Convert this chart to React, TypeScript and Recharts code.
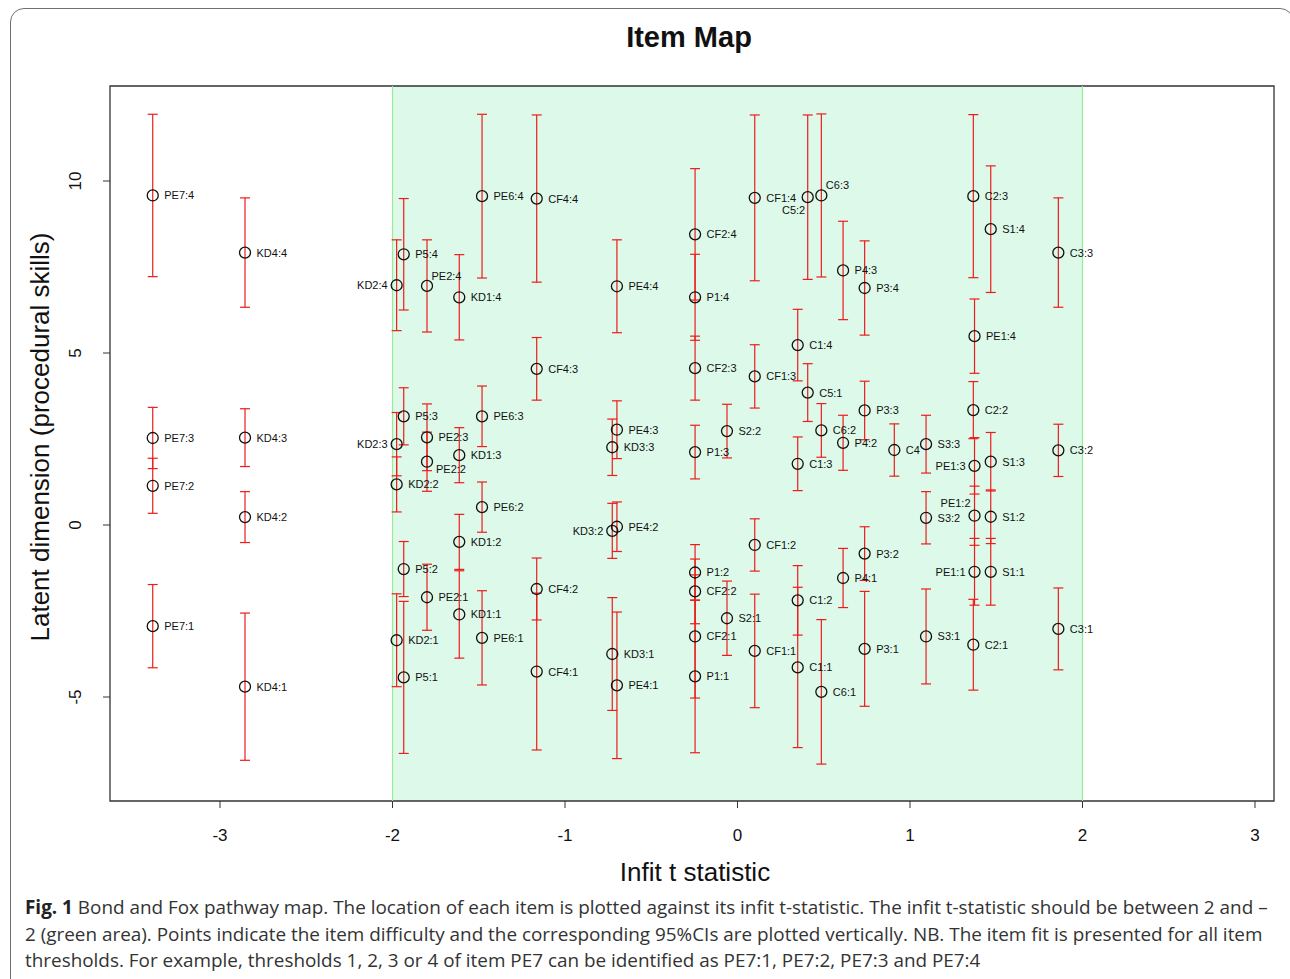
import React from 'react';
import { ScatterChart, Scatter, XAxis, YAxis, ErrorBar, ReferenceArea, ReferenceLine } from 'recharts';

// items (x = infit t statistic)
const itemNames = ['PE7', 'KD4', 'KD2', 'P5', 'PE2', 'KD1', 'PE6', 'CF4', 'KD3', 'PE4', 'CF2', 'P1', 'S2', 'CF1', 'C1', 'C5', 'C6', 'P4', 'P3', 'C4', 'S3', 'C2', 'PE1', 'S1', 'C3'];
const infitT = [-3.39, -2.855, -1.976, -1.935, -1.8, -1.613, -1.481, -1.164, -0.726, -0.699, -0.246, -0.246, -0.061, 0.1, 0.349, 0.407, 0.486, 0.612, 0.737, 0.909, 1.093, 1.367, 1.374, 1.468, 1.86];

// threshold locations (thresholds 1..n) for every item, same order as itemNames
const thresholds = [
  [-2.94, 1.14, 2.53, 9.58],
  [-4.7, 0.23, 2.54, 7.92],
  [-3.35, 1.18, 2.35, 6.97],
  [-4.43, -1.28, 3.16, 7.87],
  [-2.1, 1.84, 2.55, 6.95],
  [-2.6, -0.49, 2.03, 6.62],
  [-3.28, 0.52, 3.16, 9.56],
  [-4.26, -1.86, 4.54, 9.49],
  [-3.75, -0.17, 2.26],
  [-4.66, -0.05, 2.77, 6.94],
  [-3.24, -1.93, 4.56, 8.45],
  [-4.4, -1.38, 2.12, 6.62],
  [-2.71, 2.73],
  [-3.66, -0.58, 4.32, 9.51],
  [-4.14, -2.19, 1.78, 5.23],
  [3.85, 9.53],
  [-4.85, 2.75, 9.58],
  [-1.54, 2.39, 7.4],
  [-3.6, -0.83, 3.33, 6.89],
  [2.18],
  [-3.24, 0.21, 2.35],
  [-3.48, 3.34, 9.56],
  [-1.36, 0.27, 1.72, 5.49],
  [-1.36, 0.24, 1.84, 8.6],
  [-3.02, 2.17, 7.92],
];

// half width of the 95% CI
const ci95 = [
  [1.21, 0.8, 0.89, 2.36],
  [2.14, 0.74, 0.84, 1.59],
  [1.35, 0.8, 0.92, 1.32],
  [2.21, 0.8, 0.83, 1.62],
  [0.96, 0.86, 0.97, 1.34],
  [1.27, 0.8, 0.8, 1.24],
  [1.37, 0.73, 0.88, 2.38],
  [2.28, 0.9, 0.91, 2.43],
  [1.64, 0.8, 0.82],
  [2.13, 0.72, 0.84, 1.35],
  [1.79, 0.94, 0.93, 1.91],
  [2.22, 0.81, 0.78, 1.25],
  [1.08, 0.78],
  [1.65, 0.76, 0.92, 2.41],
  [2.33, 1.01, 0.78, 1.04],
  [0.84, 2.39],
  [2.1, 0.78, 2.37],
  [0.86, 0.8, 1.43],
  [1.67, 0.78, 0.85, 1.37],
  [0.76],
  [1.38, 0.76, 0.84],
  [1.32, 0.83, 2.37],
  [0.97, 0.86, 0.82, 1.08],
  [0.97, 0.78, 0.85, 1.84],
  [1.19, 0.76, 1.59],
];

const xTicks = [-3, -2, -1, 0, 1, 2, 3];
const yTicks = [-5, 0, 5, 10];

// where a label sits when it is not to the right of its point
const labelSide: Record<string, string> = {
  'KD2:4': 'l', 'KD2:3': 'l', 'KD3:2': 'l', 'PE1:3': 'l', 'PE1:1': 'l',
  'PE2:4': 'ur', 'C6:3': 'ur', 'C5:2': 'dl', 'PE2:2': 'dr', 'PE1:2': 'ul',
};

const points = itemNames.flatMap((name, i) =>
  thresholds[i].map((y, k) => ({
    x: infitT[i],
    y,
    ci: ci95[i][k],
    label: thresholds[i].length > 1 ? `${name}:${k + 1}` : name,
  }))
);

const XMIN = -3.6377;
const XMAX = 3.1101;
const YMIN = -8.023;
const YMAX = 12.762;

const SANS = '"Liberation Sans", Arial, Helvetica, sans-serif';

const ItemPoint = (props: any) => {
  const { cx, cy, payload } = props;
  const side = labelSide[payload.label] || 'r';
  let tx = cx + 11.5;
  let ty = cy;
  let anchor = 'start';
  if (side === 'l') { tx = cx - 9; anchor = 'end'; }
  if (side === 'ur') { tx = cx + 4.5; ty = cy - 10; }
  if (side === 'dl') { tx = cx - 2.5; ty = cy + 13; anchor = 'end'; }
  if (side === 'dr') { tx = cx + 9; ty = cy + 7; }
  if (side === 'ul') { tx = cx - 4; ty = cy - 13; anchor = 'end'; }
  return (
    <g>
      <circle cx={cx} cy={cy} r={5.5} fill="none" stroke="#111" strokeWidth={1.3} />
      <text x={tx} y={ty} textAnchor={anchor} dominantBaseline="central" fontSize={11} fontFamily={SANS} fill="#111">
        {payload.label}
      </text>
    </g>
  );
};

const XTick = (props: any) => (
  <text x={props.x} y={835} textAnchor="middle" dominantBaseline="central" fontSize={17} fontFamily={SANS} fill="#111">
    {props.payload.value}
  </text>
);

const YTick = (props: any) => (
  <text x={76} y={props.y} transform={`rotate(-90, 76, ${props.y})`} textAnchor="middle" dominantBaseline="central" fontSize={17} fontFamily={SANS} fill="#111">
    {props.payload.value}
  </text>
);

export default function App() {
  return (
    <div style={{ position: 'absolute', left: 0, top: 0, width: 1290, height: 979, overflow: 'hidden', background: '#fff' }}>
      <div style={{ position: 'absolute', left: 10, top: 8, width: 1284, height: 1000, border: '1.5px solid #6f6f6f', borderRadius: 14, boxSizing: 'border-box' }} />
      <div style={{ position: 'absolute', left: 689, top: 37, transform: 'translate(-50%, -50%)', fontFamily: SANS, fontWeight: 'bold', fontSize: 29, lineHeight: 1, whiteSpace: 'nowrap', color: '#111' }}>
        Item Map
      </div>
      <div style={{ position: 'absolute', left: 0, top: 0 }}>
        <ScatterChart width={1290} height={890} margin={{ top: 86, right: 16, bottom: 29, left: 50 }}>
          <ReferenceArea x1={-2} x2={2} y1={YMIN} y2={YMAX} fill="#ddf9e9" fillOpacity={1} stroke="none" ifOverflow="visible" />
          <ReferenceLine x={-2} stroke="#98ec98" strokeWidth={1.2} />
          <ReferenceLine x={2} stroke="#98ec98" strokeWidth={1.2} />
          <ReferenceArea x1={XMIN} x2={XMAX} y1={YMIN} y2={YMAX} fill="none" stroke="#333" strokeWidth={1.3} ifOverflow="visible" />
          <XAxis
            type="number"
            dataKey="x"
            domain={[XMIN, XMAX]}
            allowDataOverflow
            ticks={xTicks}
            interval={0}
            height={60}
            tickSize={7}
            axisLine={false}
            tickLine={{ stroke: '#333' }}
            tick={XTick}
          />
          <YAxis
            type="number"
            dataKey="y"
            domain={[YMIN, YMAX]}
            allowDataOverflow
            ticks={yTicks}
            interval={0}
            width={60}
            tickSize={7}
            axisLine={false}
            tickLine={{ stroke: '#333' }}
            tick={YTick}
          />
          <Scatter data={points} shape={ItemPoint} isAnimationActive={false}>
            <ErrorBar dataKey="ci" direction="y" width={5} stroke="#ee1c1c" strokeWidth={1.2} isAnimationActive={false} />
          </Scatter>
        </ScatterChart>
      </div>
      <div style={{ position: 'absolute', left: 695, top: 872, transform: 'translate(-50%, -50%)', fontFamily: SANS, fontSize: 26, lineHeight: 1, whiteSpace: 'nowrap', color: '#111' }}>
        Infit t statistic
      </div>
      <div style={{ position: 'absolute', left: 40, top: 437, transform: 'translate(-50%, -50%) rotate(-90deg)', fontFamily: SANS, fontSize: 26, lineHeight: 1, whiteSpace: 'nowrap', color: '#111' }}>
        Latent dimension (procedural skills)
      </div>
      <div style={{ position: 'absolute', left: 25, top: 894, fontFamily: '"Open Sans", sans-serif', fontSize: 18.9, lineHeight: '26.5px', color: '#333', whiteSpace: 'nowrap' }}>
        <div><b style={{ color: '#222' }}>Fig. 1</b> Bond and Fox pathway map. The location of each item is plotted against its infit t-statistic. The infit t-statistic should be between 2 and –</div>
        <div>2 (green area). Points indicate the item difficulty and the corresponding 95%CIs are plotted vertically. NB. The item fit is presented for all item</div>
        <div>thresholds. For example, thresholds 1, 2, 3 or 4 of item PE7 can be identified as PE7:1, PE7:2, PE7:3 and PE7:4</div>
      </div>
    </div>
  );
}
